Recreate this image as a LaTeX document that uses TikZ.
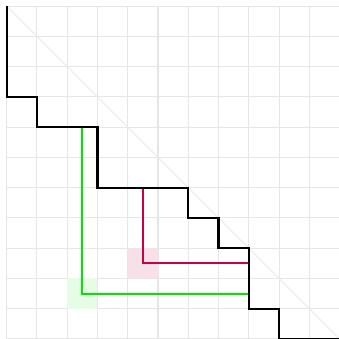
\documentclass[tikz,border=0pt]{standalone}
\usepackage{xcolor}
\usepackage{tikz}

\definecolor{gridgray}{HTML}{E6E6E6}
\definecolor{pathgreen}{HTML}{00E600}
\definecolor{pathred}{HTML}{C8004B}

\begin{document}
\begin{tikzpicture}[x=0.6cm, y=-0.6cm,
    gridline/.style={gridgray, line width=0.6pt},
    stair/.style={black, line width=1.2pt},
    hook/.style={line width=1.1pt}]
    \useasboundingbox (-0.22,-0.2) rectangle (10.95,11.0);
    \foreach \i in {0,...,11} {
        \draw[gridline] (\i,0) -- (\i,11);
        \draw[gridline] (0,\i) -- (11,\i);
    }
    \draw[gridgray!80, line width=0.6pt] (0,0) -- (11,11);
    % shaded cells
    \fill[pathgreen!10] (2,9) rectangle (3,10);
    \fill[pathred!12] (4,8) rectangle (5,9);
    % hooks
    \draw[hook, pathgreen] (2.5,4) -- (2.5,9.5) -- (8,9.5);
    \draw[hook, pathred] (4.5,6) -- (4.5,8.5) -- (8,8.5);
    % staircase
    \draw[stair] (0,0) -- (0,3) -- (1,3) -- (1,4) -- (3,4) -- (3,6) -- (6,6) -- (6,7)
        -- (7,7) -- (7,8) -- (8,8) -- (8,10) -- (9,10) -- (9,11) -- (11,11);
\end{tikzpicture}
\end{document}
